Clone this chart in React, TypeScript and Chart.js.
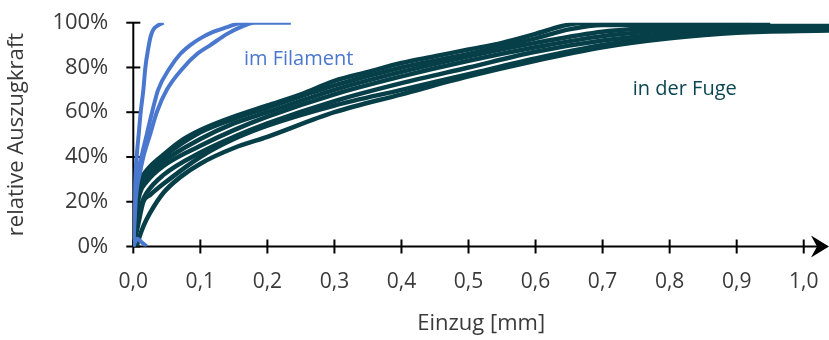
import React, { useEffect, useRef } from "react";
import { Chart, registerables } from "chart.js";

Chart.register(...registerables);

// ---- data ----
const xTickValues = [0, 0.1, 0.2, 0.3, 0.4, 0.5, 0.6, 0.7, 0.8, 0.9, 1.0];
const yTickValues = [0, 20, 40, 60, 80, 100];

// "im Filament" curves
const fil1X = [0, 0.002, 0.005, 0.008, 0.011, 0.015, 0.018, 0.022, 0.026, 0.03, 0.038, 0.045];
const fil1Y = [0, 25, 40, 50, 60, 70, 80, 88, 94, 97, 99, 100];
const fil2X = [0, 0.003, 0.008, 0.012, 0.02, 0.028, 0.037, 0.055, 0.07, 0.085, 0.1, 0.12, 0.14, 0.155, 0.17];
const fil2Y = [0, 25, 35, 40, 50, 60, 70, 80, 86, 90, 93, 96, 98, 99.5, 100];
const fil3X = [0, 0.004, 0.01, 0.015, 0.025, 0.035, 0.05, 0.075, 0.095, 0.115, 0.14, 0.16, 0.18, 0.235];
const fil3Y = [0, 22, 33, 40, 50, 60, 70, 80, 86, 90, 95, 98, 100, 100];
const fil4X = [0, 0.006, 0.012, 0.02];
const fil4Y = [0, 3.5, 2, 0];

// "in der Fuge" curves
const fuge1X = [0, 0.004, 0.01, 0.02, 0.045, 0.07, 0.1, 0.15, 0.2, 0.25, 0.3, 0.35, 0.4, 0.45, 0.5, 0.55, 0.6, 0.64, 0.67, 0.8, 0.95];
const fuge1Y = [0, 20, 29, 34, 41, 47, 52, 58, 63, 68, 74, 78, 82, 85, 88, 91, 95, 98.5, 100, 100, 100];
const fuge2X = [0, 0.004, 0.01, 0.02, 0.045, 0.1, 0.15, 0.2, 0.3, 0.4, 0.5, 0.6, 0.7, 0.8, 0.9, 1.04];
const fuge2Y = [0, 17, 26, 31, 38, 48, 55, 60, 70, 78, 85, 91, 96, 98, 98.5, 98.5];
const fuge3X = [0, 0.004, 0.01, 0.02, 0.045, 0.1, 0.15, 0.2, 0.3, 0.4, 0.5, 0.6, 0.7, 0.8, 0.9, 1.04];
const fuge3Y = [0, 15, 24, 29, 36, 45, 52, 58, 68, 76, 83, 89, 94, 96.5, 97.5, 98];
const fuge4X = [0, 0.006, 0.012, 0.02, 0.045, 0.1, 0.15, 0.2, 0.3, 0.4, 0.5, 0.6, 0.7, 0.8, 0.9, 1.04];
const fuge4Y = [0, 12, 19, 24, 32, 42, 49, 55, 65, 73, 80, 87, 92, 95, 96.5, 97.5];
const fuge5X = [0, 0.006, 0.015, 0.025, 0.045, 0.1, 0.15, 0.2, 0.3, 0.4, 0.5, 0.6, 0.7, 0.8, 0.9, 1.04];
const fuge5Y = [0, 8, 20, 23, 28, 40, 48, 54, 63, 70, 77, 84, 90, 94, 96, 97];
const fuge6X = [0.005, 0.01, 0.015, 0.025, 0.045, 0.07, 0.1, 0.15, 0.2, 0.3, 0.4, 0.5, 0.6, 0.7, 0.8, 0.9, 1.04];
const fuge6Y = [0, 5, 9, 15, 24, 31, 37, 44, 49, 60, 68, 76, 83, 89, 93, 95.5, 96.5];
const fuge7X = [0, 0.004, 0.01, 0.02, 0.045, 0.1, 0.15, 0.2, 0.3, 0.4, 0.5, 0.6, 0.65, 0.7, 0.8, 0.92];
const fuge7Y = [0, 19, 28, 33, 40, 51, 57, 62, 72, 80, 86, 93, 97, 99, 99, 99];

const filamentSeries = [
  [fil1X, fil1Y],
  [fil2X, fil2Y],
  [fil3X, fil3Y],
  [fil4X, fil4Y],
];
const fugeSeries = [
  [fuge1X, fuge1Y],
  [fuge7X, fuge7Y],
  [fuge2X, fuge2Y],
  [fuge3X, fuge3Y],
  [fuge4X, fuge4Y],
  [fuge5X, fuge5Y],
  [fuge6X, fuge6Y],
];

// annotation labels (data coordinates)
const labelFilament = { text: "im Filament", x: 0.165, y: 83.6 };
const labelFuge = { text: "in der Fuge", x: 0.745, y: 70.2 };

const BLUE = "#4a78cf";
const TEAL = "#073f49";
const FONT = "'Open Sans', 'Noto Sans', sans-serif";

const toPoints = (xs: number[], ys: number[]) => xs.map((x, i) => ({ x, y: ys[i] }));

const axesPlugin = {
  id: "customAxes",
  beforeDatasetsDraw(chart: any) {
    const { ctx } = chart;
    const xs = chart.scales.x;
    const ys = chart.scales.y;
    const x0 = xs.getPixelForValue(0);
    const y0 = ys.getPixelForValue(0);
    const yTop = ys.getPixelForValue(100);
    ctx.save();
    ctx.strokeStyle = "#000";
    ctx.fillStyle = "#000";
    ctx.lineWidth = 2;
    // y axis
    ctx.beginPath();
    ctx.moveTo(x0, y0);
    ctx.lineTo(x0, yTop);
    ctx.stroke();
    yTickValues.forEach((v) => {
      const p = ys.getPixelForValue(v);
      ctx.beginPath();
      ctx.moveTo(x0 - 7, p);
      ctx.lineTo(x0 + 7, p);
      ctx.stroke();
    });
    // x axis
    const xEnd = chart.chartArea.right;
    ctx.beginPath();
    ctx.moveTo(x0, y0);
    ctx.lineTo(xEnd - 6, y0);
    ctx.stroke();
    xTickValues.forEach((v) => {
      const p = xs.getPixelForValue(v);
      ctx.beginPath();
      ctx.moveTo(p, y0 - 7);
      ctx.lineTo(p, y0 + 7);
      ctx.stroke();
    });
    // arrow head
    ctx.beginPath();
    ctx.moveTo(xEnd, y0);
    ctx.lineTo(xEnd - 18, y0 - 11);
    ctx.lineTo(xEnd - 12, y0);
    ctx.lineTo(xEnd - 18, y0 + 11);
    ctx.closePath();
    ctx.fill();
    ctx.restore();
  },
  afterDatasetsDraw(chart: any) {
    const { ctx } = chart;
    const xs = chart.scales.x;
    const ys = chart.scales.y;
    ctx.save();
    ctx.font = `20px ${FONT}`;
    ctx.textBaseline = "middle";
    ctx.textAlign = "left";
    ctx.fillStyle = BLUE;
    ctx.fillText(labelFilament.text, xs.getPixelForValue(labelFilament.x), ys.getPixelForValue(labelFilament.y));
    ctx.fillStyle = "#0b4652";
    ctx.fillText(labelFuge.text, xs.getPixelForValue(labelFuge.x), ys.getPixelForValue(labelFuge.y));
    ctx.restore();
  },
};

export default function App() {
  const ref = useRef<HTMLCanvasElement | null>(null);
  useEffect(() => {
    if (!ref.current) return;
    const datasets: any[] = [];
    filamentSeries.forEach(([xs, ys]) => {
      datasets.push({
        data: toPoints(xs, ys),
        borderColor: BLUE,
        backgroundColor: BLUE,
        borderWidth: 4,
        pointRadius: 0,
        cubicInterpolationMode: "monotone",
      });
    });
    fugeSeries.forEach(([xs, ys]) => {
      datasets.push({
        data: toPoints(xs, ys),
        borderColor: TEAL,
        backgroundColor: TEAL,
        borderWidth: 4.5,
        pointRadius: 0,
        cubicInterpolationMode: "monotone",
      });
    });
    const chart = new Chart(ref.current, {
      type: "line",
      data: { datasets },
      plugins: [axesPlugin],
      options: {
        animation: false,
        responsive: false,
        devicePixelRatio: 1,
        layout: { padding: { top: 22.7, right: 0, left: 0, bottom: 0 } },
        plugins: { legend: { display: false }, tooltip: { enabled: false } },
        scales: {
          x: {
            type: "linear",
            min: 0,
            max: 1.0377,
            grid: { display: false, drawTicks: false },
            border: { display: false },
            afterBuildTicks: (s: any) => {
              s.ticks = xTickValues.map((v) => ({ value: v }));
            },
            afterFit: (s: any) => {
              s.height = 93.5;
              s.paddingLeft = 0;
              s.paddingRight = 0;
            },
            ticks: {
              padding: 23,
              color: "#3a3a3a",
              font: { size: 21, family: FONT },
              maxRotation: 0,
              autoSkip: false,
              callback: (v: any) => Number(v).toFixed(1).replace(".", ","),
            },
            title: {
              display: true,
              text: "Einzug [mm]",
              color: "#3a3a3a",
              font: { size: 22, family: FONT },
              padding: { top: 0, bottom: 3 },
            },
          },
          y: {
            type: "linear",
            min: 0,
            max: 100,
            grid: { display: false, drawTicks: false },
            border: { display: false },
            afterBuildTicks: (s: any) => {
              s.ticks = yTickValues.map((v) => ({ value: v }));
            },
            afterFit: (s: any) => {
              s.width = 133.3;
              s.paddingTop = 0;
              s.paddingBottom = 0;
            },
            ticks: {
              padding: 25,
              color: "#3a3a3a",
              font: { size: 22, family: FONT },
              callback: (v: any) => `${v}%`,
            },
            title: {
              display: true,
              text: "relative Auszugkraft",
              color: "#3a3a3a",
              font: { size: 22, family: FONT },
              padding: { top: 4, bottom: 0 },
            },
          },
        },
      },
    });
    return () => chart.destroy();
  }, []);
  return (
    <div style={{ position: "fixed", left: 0, top: 0, width: 829, height: 340, background: "#fff" }}>
      <canvas ref={ref} width={829} height={340} style={{ width: 829, height: 340, display: "block" }} />
    </div>
  );
}
